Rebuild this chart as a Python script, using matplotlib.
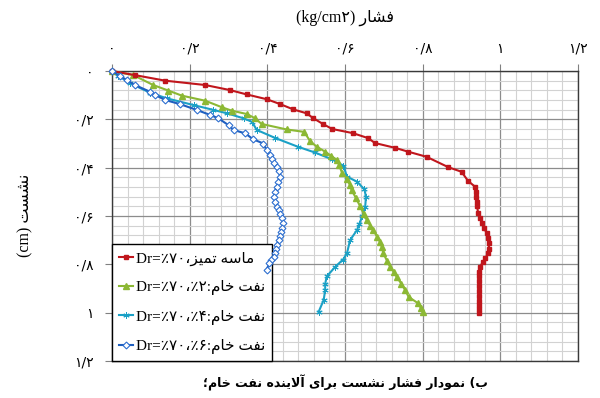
import numpy as np
import matplotlib
matplotlib.use('Agg')
import matplotlib.pyplot as plt

# --- data ---
red_x = [0, 0.059, 0.137, 0.24, 0.304, 0.347, 0.399, 0.433, 0.467, 0.501, 0.518, 0.543, 0.567,
         0.62, 0.66, 0.677, 0.729, 0.763, 0.81, 0.866, 0.90, 0.917, 0.935, 0.937, 0.938, 0.939,
         0.940, 0.943, 0.948, 0.952, 0.958, 0.965, 0.968, 0.970, 0.971, 0.968, 0.961, 0.955,
         0.948, 0.946, 0.946, 0.946, 0.946, 0.946, 0.946, 0.946, 0.946, 0.946, 0.946]
red_y = [0, 0.017, 0.040, 0.058, 0.079, 0.097, 0.117, 0.137, 0.159, 0.175, 0.195, 0.219, 0.240,
         0.257, 0.278, 0.298, 0.318, 0.334, 0.355, 0.398, 0.417, 0.455, 0.479, 0.50, 0.52, 0.54,
         0.56, 0.588, 0.61, 0.629, 0.65, 0.671, 0.69, 0.71, 0.737, 0.755, 0.775, 0.79,
         0.81, 0.83, 0.85, 0.87, 0.89, 0.91, 0.93, 0.95, 0.97, 0.985, 1.0]

green_x = [0, 0.055, 0.106, 0.145, 0.18, 0.24, 0.283, 0.308, 0.347, 0.369, 0.385, 0.45, 0.495,
           0.51, 0.527, 0.549, 0.565, 0.579, 0.585, 0.592, 0.605, 0.612, 0.617, 0.628, 0.639,
           0.648, 0.656, 0.665, 0.673, 0.682, 0.69, 0.695, 0.699, 0.708, 0.716, 0.725, 0.733,
           0.745, 0.755, 0.764, 0.789, 0.795, 0.802]
green_y = [0, 0.017, 0.058, 0.081, 0.102, 0.123, 0.150, 0.164, 0.178, 0.196, 0.219, 0.242, 0.252,
           0.29, 0.313, 0.334, 0.352, 0.368, 0.39, 0.42, 0.445, 0.47, 0.493, 0.525, 0.56,
           0.59, 0.617, 0.64, 0.658, 0.685, 0.707, 0.73, 0.755, 0.785, 0.81, 0.83, 0.852,
           0.88, 0.907, 0.935, 0.962, 0.98, 0.997]

cyan_x = [0, 0.016, 0.047, 0.098, 0.141, 0.21, 0.261, 0.296, 0.339, 0.36, 0.373, 0.42, 0.478,
          0.522, 0.566, 0.596, 0.605, 0.631, 0.65, 0.654, 0.652, 0.645, 0.636, 0.631, 0.613,
          0.605, 0.595, 0.575, 0.553, 0.549, 0.549, 0.545, 0.532]
cyan_y = [0, 0.02, 0.051, 0.090, 0.113, 0.141, 0.161, 0.175, 0.196, 0.21, 0.244, 0.277, 0.313,
          0.337, 0.365, 0.392, 0.437, 0.458, 0.49, 0.52, 0.562, 0.60, 0.635, 0.658, 0.70,
          0.755, 0.78, 0.81, 0.85, 0.88, 0.907, 0.948, 0.997]

blue_x = [0, 0.021, 0.038, 0.059, 0.098, 0.111, 0.137, 0.175, 0.218, 0.253, 0.274, 0.30, 0.313,
          0.343, 0.364, 0.39, 0.398, 0.407, 0.412, 0.418, 0.424, 0.43, 0.433, 0.428, 0.424,
          0.42, 0.417, 0.42, 0.424, 0.43, 0.433, 0.438, 0.441, 0.438, 0.435, 0.432, 0.429,
          0.425, 0.422, 0.419, 0.416, 0.41, 0.405, 0.398]
blue_y = [0, 0.021, 0.037, 0.058, 0.086, 0.099, 0.120, 0.137, 0.161, 0.182, 0.196, 0.224, 0.244,
          0.258, 0.283, 0.30, 0.327, 0.348, 0.365, 0.38, 0.396, 0.415, 0.437, 0.458, 0.479,
          0.50, 0.52, 0.54, 0.562, 0.576, 0.59, 0.61, 0.631, 0.648, 0.665, 0.683, 0.70,
          0.718, 0.735, 0.752, 0.769, 0.782, 0.795, 0.824]

x_ticks = [0, 0.2, 0.4, 0.6, 0.8, 1.0, 1.2]
y_ticks = [0, 0.2, 0.4, 0.6, 0.8, 1.0, 1.2]

# --- minimal persian shaping (matplotlib has no bidi / joining) ---
FORMS = {
    'ا': ('\uFE8D', '\uFE8E', None, None),
    'آ': ('\uFE81', '\uFE82', None, None),
    'ب': ('\uFE8F', '\uFE90', '\uFE91', '\uFE92'),
    'ت': ('\uFE95', '\uFE96', '\uFE97', '\uFE98'),
    'خ': ('\uFEA5', '\uFEA6', '\uFEA7', '\uFEA8'),
    'د': ('\uFEA9', '\uFEAA', None, None),
    'ر': ('\uFEAD', '\uFEAE', None, None),
    'ز': ('\uFEAF', '\uFEB0', None, None),
    'س': ('\uFEB1', '\uFEB2', '\uFEB3', '\uFEB4'),
    'ش': ('\uFEB5', '\uFEB6', '\uFEB7', '\uFEB8'),
    'ف': ('\uFED1', '\uFED2', '\uFED3', '\uFED4'),
    'ل': ('\uFEDD', '\uFEDE', '\uFEDF', '\uFEE0'),
    'م': ('\uFEE1', '\uFEE2', '\uFEE3', '\uFEE4'),
    'ن': ('\uFEE5', '\uFEE6', '\uFEE7', '\uFEE8'),
    'ه': ('\uFEE9', '\uFEEA', '\uFEEB', '\uFEEC'),
    'و': ('\uFEED', '\uFEEE', None, None),
    'ی': ('\uFBFC', '\uFBFD', '\uFBFE', '\uFBFF'),
}


def fa(text):
    out = []
    i = 0
    while i < len(text):
        c = text[i]
        if c not in FORMS:
            out.append(c)
            i += 1
            continue
        prev = text[i - 1] if i > 0 else ''
        joins_prev = prev in FORMS and FORMS[prev][2] is not None
        if c == 'ل' and i + 1 < len(text) and text[i + 1] == 'ا':
            out.append('\uFEFC' if joins_prev else '\uFEFB')
            i += 2
            continue
        nxt = text[i + 1] if i + 1 < len(text) else ''
        joins_next = FORMS[c][2] is not None and nxt in FORMS
        iso, fin, ini, med = FORMS[c]
        if joins_prev and joins_next:
            out.append(med)
        elif joins_prev:
            out.append(fin)
        elif joins_next:
            out.append(ini)
        else:
            out.append(iso)
        i += 1
    mirror = {'(': ')', ')': '('}
    return ''.join(mirror.get(c, c) for c in reversed(out))


def fa_num(v):
    s = ('%g' % v).replace('.', '/')
    return s.translate(str.maketrans('0123456789', '۰۱۲۳۴۵۶۷۸۹'))


labels = ['Dr=٪۷۰،' + fa('ماسه تمیز'),
          'Dr=٪۷۰،٪۲:' + fa('نفت خام'),
          'Dr=٪۷۰،٪۴:' + fa('نفت خام'),
          'Dr=٪۷۰،٪۶:' + fa('نفت خام')]

serif = ['Liberation Serif', 'DejaVu Sans']

fig = plt.figure(figsize=(6, 3.98), dpi=100)
ax = fig.add_axes([112 / 600, 1 - 361 / 398, 466 / 600, 290 / 398])

ax.plot(red_x, red_y, color='#C0161C', lw=1.5, marker='s', ms=2.5, label=labels[0], clip_on=False, zorder=5)
ax.plot(green_x, green_y, color='#8CB834', lw=1.5, marker='^', ms=4.5, label=labels[1], clip_on=False, zorder=4)
ax.plot(cyan_x, cyan_y, color='#1BA1C6', lw=1.5, marker=(6, 2, 0), ms=4.5, mew=0.7,
        label=labels[2], clip_on=False, zorder=3)
ax.plot(blue_x, blue_y, color='#1F5FBF', lw=1.5, marker='D', ms=3.5, mfc='white', mec='#2E6FD0',
        mew=0.8, label=labels[3], clip_on=False, zorder=6)

ax.set_xlim(0, 1.2)
ax.set_ylim(1.2, 0)
ax.xaxis.tick_top()
ax.set_xticks(x_ticks)
ax.set_yticks(y_ticks)
ax.set_xticks(np.arange(0, 1.2001, 0.04), minor=True)
ax.set_yticks(np.arange(0, 1.2001, 0.04), minor=True)
ax.set_xticklabels([fa_num(v) for v in x_ticks], fontsize=10, family='DejaVu Sans')
ax.set_yticklabels([fa_num(v) for v in y_ticks], fontsize=10, family='DejaVu Sans')
ax.tick_params(which='major', length=5, color='#808080', pad=6)
ax.tick_params(axis='y', pad=8)
ax.tick_params(which='minor', length=0)
ax.grid(which='major', color='#8c8c8c', lw=0.9)
ax.grid(which='minor', color='#d2d2d2', lw=0.8)
ax.set_axisbelow(True)
for s in ax.spines.values():
    s.set_color('#3a3a3a')
    s.set_linewidth(1.0)

leg = ax.legend(loc='lower left', bbox_to_anchor=(0, 0), borderaxespad=0, fancybox=False,
                edgecolor='black', framealpha=1, prop={'family': serif, 'size': 11},
                handlelength=0.9, handletextpad=0.2, labelspacing=0.95, borderpad=0.45)
leg.get_frame().set_linewidth(1.0)

fig.text(345 / 600, 1 - 18 / 398, '(kg/cm۲) ' + fa('فشار'), ha='center', va='center',
         fontsize=11.5, family=serif)
fig.text(25 / 600, 1 - 215 / 398, '(cm) ' + fa('نشست'), ha='center', va='center',
         rotation=90, fontsize=11.5, family=serif)
fig.text(345 / 600, 1 - 383 / 398, fa('ب) نمودار فشار نشست برای آلاینده نفت خام؛'), ha='center',
         va='center', fontsize=9, fontweight='bold', family='DejaVu Sans')

fig.savefig('out.png', dpi=100)
